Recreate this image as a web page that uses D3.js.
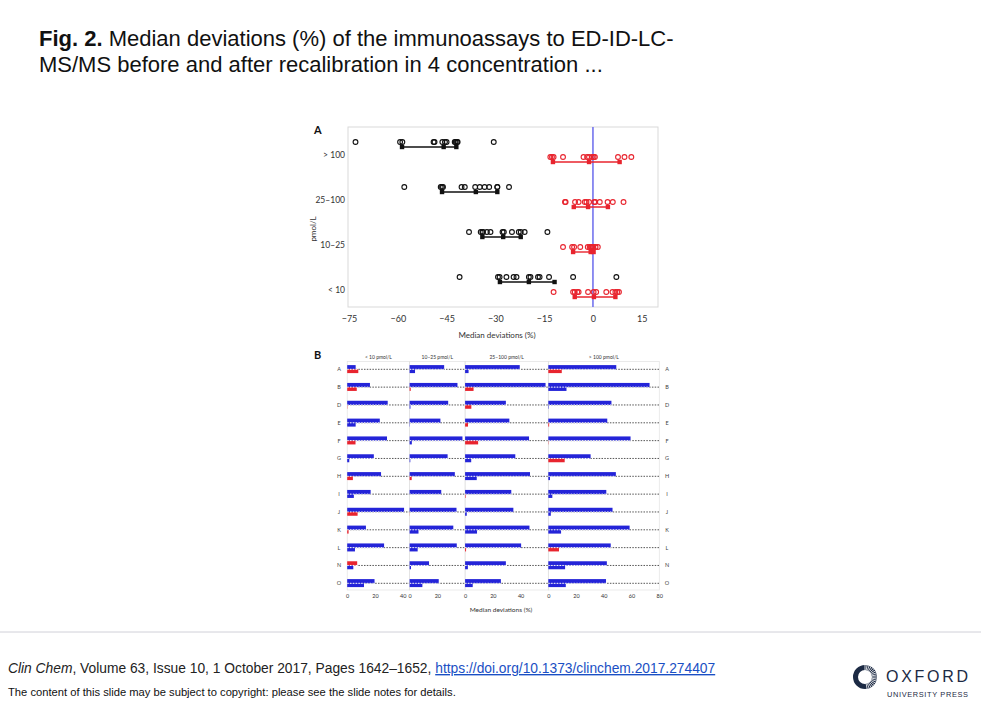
<!DOCTYPE html>
<html><head><meta charset="utf-8">
<script src="https://cdn.jsdelivr.net/npm/d3@7"></script>
<style>body{margin:0;background:#fff;} svg{display:block;}</style>
</head><body>
<svg id="c" width="981" height="713"></svg>
<script>
// ---------------- DATA ----------------
const assays = ["A","B","D","E","F","G","H","I","J","K","L","N","O"];
const concCategories = ["> 100","25–100","10–25","< 10"];       // panel A, top to bottom
const panelTitles = ["< 10 pmol/L","10–25 pmol/L","25–100 pmol/L","> 100 pmol/L"]; // panel B, left to right

// signed median deviations (%) per assay (order of `assays`)
const beforeLt10   = [-6.1,-16.4,-29.2,-23.5,-28.7,-19.2,-24.4,-16.9,-41.0,-13.5,-26.6, 7.2,-19.7];
const afterLt10    = [ 8.0,  6.9,  0.2, -6.1,  6.0, -1.5,  4.1, -4.8,  7.5,  1.0, -5.6,-4.4,-12.1];
const before10to25 = [-24.9,-34.5,-27.8,-22.2,-38.1,-27.4,-32.6,-22.8,-33.8,-31.5,-34.0,-14.0,-21.0];
const after10to25  = [-3.9,  0.8, -0.6, -0.2, -1.6, -0.5,  1.5,  0.0,  0.1, -6.4, -5.8, -1.0, -9.2];
const before25to100= [-39.4,-58.0,-29.4,-31.9,-46.1,-36.2,-46.8,-33.3,-34.8,-46.4,-40.4,-29.4,-25.8];
const after25to100 = [-2.5,  6.1,  4.5,  2.1,  9.4, -4.4, -8.4,  0.4, -1.2, -8.6,  0.7, -2.0, -5.5];
const beforeGt100  = [-49.0,-73.0,-45.5,-42.5,-59.3,-30.5,-48.7,-41.8,-46.3,-58.6,-45.0,-42.2,-41.6];
const afterGt100   = [ 9.7,-13.1, -0.3,  0.6,  0.2, 11.8, -1.2, -2.9, -1.8, -9.2,  7.7,-12.1,-12.6];

// panel A summary markers (lower CI, median, upper CI)
const ciBefore = {"> 100":[-58.7,-45.9,-42.0],"25–100":[-46.4,-36.0,-29.4],"10–25":[-34.0,-27.6,-22.2],"< 10":[-28.6,-19.7,-11.8]};
const ciAfter  = {"> 100":[-12.3,-1.2,8.2],"25–100":[-5.9,-1.5,4.6],"10–25":[-6.1,-0.7,0.2],"< 10":[-5.6,0.3,6.9]};

const xTicksA = [-75,-60,-45,-30,-15,0,15];
const panelMaxB = [45,40,60,80];
const panelTicksB = [[0,20,40],[0,20],[0,20,40],[0,20,40,60,80]];

// tables built from arrays
const beforeByCat = {"> 100":beforeGt100,"25–100":before25to100,"10–25":before10to25,"< 10":beforeLt10};
const afterByCat  = {"> 100":afterGt100,"25–100":after25to100,"10–25":after10to25,"< 10":afterLt10};
const panelBefore = [beforeLt10,before10to25,before25to100,beforeGt100];
const panelAfter  = [afterLt10,after10to25,after25to100,afterGt100];

// ---------------- STYLE ----------------
const BLUE = "#2424d8", RED = "#e8242e", CHART_FONT = "Lato, 'Open Sans', sans-serif";
const SANS = "'Liberation Sans', Arial, sans-serif";
const svg = d3.select("#c");
svg.append("rect").attr("width",981).attr("height",713).attr("fill","#fff");

// ---------------- TITLE ----------------
const t1 = svg.append("text").attr("x",39).attr("y",46).attr("font-family",SANS).attr("font-size",22).attr("fill","#111");
t1.append("tspan").attr("font-weight","bold").text("Fig. 2.");
t1.append("tspan").text(" Median deviations (%) of the immunoassays to ED-ID-LC-");
svg.append("text").attr("x",39).attr("y",72).attr("font-family",SANS).attr("font-size",22).attr("fill","#111")
  .text("MS/MS before and after recalibration in 4 concentration ...");

// ---------------- PANEL A ----------------
const gA = svg.append("g");
const xA = d3.scaleLinear().domain([-75,20]).range([349,658]);
const yA = d3.scalePoint().domain(concCategories).range([152,287]);
gA.append("rect").attr("x",348).attr("y",127).attr("width",310).attr("height",180)
  .attr("fill","none").attr("stroke","#d9d9d9").attr("stroke-width",1);
gA.append("line").attr("x1",xA(0)).attr("x2",xA(0)).attr("y1",127).attr("y2",307)
  .attr("stroke","#7474ee").attr("stroke-width",1.6);

concCategories.forEach(cat => {
  const yc = yA(cat);
  [[beforeByCat[cat], ciBefore[cat], "#111", -10, -5], [afterByCat[cat], ciAfter[cat], RED, 5, 10]].forEach(([vals, ci, col, dC, dL]) => {
    gA.append("line").attr("x1",xA(ci[0])).attr("x2",xA(ci[2])).attr("y1",yc+dL).attr("y2",yc+dL)
      .attr("stroke",col).attr("stroke-width",1.4);
    gA.selectAll(null).data(ci).join("rect")
      .attr("x",d=>xA(d)-2.2).attr("y",yc+dL-2.2).attr("width",4.4).attr("height",4.4).attr("fill",col);
    gA.selectAll(null).data(vals).join("circle")
      .attr("cx",d=>xA(d)).attr("cy",yc+dC).attr("r",2.4)
      .attr("fill","none").attr("stroke",col).attr("stroke-width",1.1);
  });
});
const axA = gA.append("g").attr("transform","translate(0,313)")
  .call(d3.axisBottom(xA).tickValues(xTicksA).tickSize(0).tickPadding(3).tickFormat(d => d<0 ? "\u2212"+Math.abs(d) : d));
axA.select(".domain").remove();
axA.selectAll("text").attr("font-family",CHART_FONT).attr("font-size",9).attr("fill","#333");
const ayA = gA.append("g").attr("transform","translate(345,3)")
  .call(d3.axisLeft(yA).tickSize(0).tickPadding(0));
ayA.select(".domain").remove();
ayA.selectAll("text").attr("font-family",CHART_FONT).attr("font-size",8.5).attr("fill","#333");
gA.append("text").attr("transform","translate(316,229) rotate(-90)").attr("text-anchor","middle")
  .attr("font-family",CHART_FONT).attr("font-size",8).attr("fill","#333").text("pmol/L");
gA.append("text").attr("x",497).attr("y",338).attr("text-anchor","middle")
  .attr("font-family",CHART_FONT).attr("font-size",8).attr("fill","#333").text("Median deviations (%)");
gA.append("text").attr("x",314).attr("y",134).attr("font-family",CHART_FONT).attr("font-weight","bold")
  .attr("font-size",11).attr("fill","#111").text("A");

// ---------------- PANEL B ----------------
const gB = svg.append("g");
const kB = 1.387, x0B = 347.2;
const xB = [];
let accB = x0B;
panelMaxB.forEach(m => { xB.push(d3.scaleLinear().domain([0,m]).range([accB, accB+m*kB])); accB += m*kB; });
const yB = d3.scalePoint().domain(assays).range([369.3,583.3]);
const frameTopB = 361.5, frameBotB = 590;

xB.forEach((sc,i) => {
  const [a,b] = sc.range();
  gB.append("rect").attr("x",a).attr("y",frameTopB).attr("width",b-a).attr("height",frameBotB-frameTopB)
    .attr("fill","none").attr("stroke","#e2e2e2").attr("stroke-width",0.7);
  gB.append("text").attr("x",(a+b)/2).attr("y",359).attr("text-anchor","middle")
    .attr("font-family",CHART_FONT).attr("font-size",5).attr("fill","#333").text(panelTitles[i]);
  const ax = gB.append("g").attr("transform",`translate(0,${frameBotB+2})`)
    .call(d3.axisBottom(sc).tickValues(panelTicksB[i]).tickSize(0).tickPadding(2));
  ax.select(".domain").remove();
  ax.selectAll("text").attr("font-family",CHART_FONT).attr("font-size",5.5).attr("fill","#333");

  assays.forEach((as,j) => {
    const r = yB(as), bv = panelBefore[i][j], av = panelAfter[i][j];
    gB.append("line").attr("x1",a).attr("x2",b).attr("y1",r).attr("y2",r)
      .attr("stroke","#555").attr("stroke-width",1).attr("stroke-dasharray","1.5,1.3");
    gB.append("rect").attr("x",sc(0)).attr("y",r-4.2).attr("width",sc(Math.abs(bv))-sc(0)).attr("height",4.2)
      .attr("fill", bv<0 ? BLUE : RED);
    gB.append("rect").attr("x",sc(0)).attr("y",r).attr("width",sc(Math.abs(av))-sc(0)).attr("height",3.8)
      .attr("fill", av<0 ? BLUE : RED);
    const mx = Math.max(Math.abs(bv),Math.abs(av));
    gB.append("line").attr("x1",sc(0)).attr("x2",sc(mx)).attr("y1",r).attr("y2",r)
      .attr("stroke","#fff").attr("stroke-width",1).attr("stroke-dasharray","1.5,1.3");
  });
});
// row labels both sides
gB.selectAll(null).data(assays).join("text").attr("x",339).attr("y",d=>yB(d)).attr("dy","0.35em")
  .attr("text-anchor","middle").attr("font-family",CHART_FONT).attr("font-size",5.5).attr("fill","#444").text(d=>d);
gB.selectAll(null).data(assays).join("text").attr("x",667).attr("y",d=>yB(d)).attr("dy","0.35em")
  .attr("text-anchor","middle").attr("font-family",CHART_FONT).attr("font-size",5.5).attr("fill","#444").text(d=>d);
gB.append("text").attr("x",501).attr("y",611.5).attr("text-anchor","middle")
  .attr("font-family",CHART_FONT).attr("font-size",6.5).attr("fill","#333").text("Median deviations (%)");
gB.append("text").attr("x",314).attr("y",359).attr("font-family",CHART_FONT).attr("font-weight","bold")
  .attr("font-size",11).attr("fill","#111").text("B");

// ---------------- FOOTER ----------------
svg.append("line").attr("x1",0).attr("x2",981).attr("y1",632).attr("y2",632).attr("stroke","#d0d0d8").attr("stroke-width",1);
const f1 = svg.append("text").attr("x",8).attr("y",673).attr("font-family",SANS)
  .attr("font-size",13.8).attr("fill","#222");
f1.append("tspan").attr("font-style","italic").text("Clin Chem");
f1.append("tspan").text(", Volume 63, Issue 10, 1 October 2017, Pages 1642–1652, ");
f1.append("tspan").attr("fill","#1a4fc4").attr("text-decoration","underline").text("https://doi.org/10.1373/clinchem.2017.274407");
svg.append("text").attr("x",8).attr("y",696).attr("font-family",SANS)
  .attr("font-size",11.2).attr("fill","#111").text("The content of this slide may be subject to copyright: please see the slide notes for details.");

// Oxford logo
const NAVY = "#1c2a44";
const lg = svg.append("g");
lg.append("circle").attr("cx",865).attr("cy",677).attr("r",9.5).attr("fill","none").attr("stroke",NAVY).attr("stroke-width",5);
d3.range(0,18).forEach(i => {
  const ang = -Math.PI/2 + i*Math.PI/18;
  lg.append("line").attr("x1",865+7*Math.cos(ang)).attr("y1",677+7*Math.sin(ang))
    .attr("x2",865+12.5*Math.cos(ang)).attr("y2",677+12.5*Math.sin(ang)).attr("stroke","#fff").attr("stroke-width",0.8);
});
svg.append("text").attr("x",886).attr("y",682).attr("font-family",SANS)
  .attr("font-size",16).attr("textLength",82).attr("lengthAdjust","spacing").attr("fill",NAVY).text("OXFORD");
svg.append("text").attr("x",887).attr("y",697).attr("font-family",SANS)
  .attr("font-size",7.4).attr("textLength",81).attr("lengthAdjust","spacing").attr("fill",NAVY).text("UNIVERSITY PRESS");
</script>
</body></html>
